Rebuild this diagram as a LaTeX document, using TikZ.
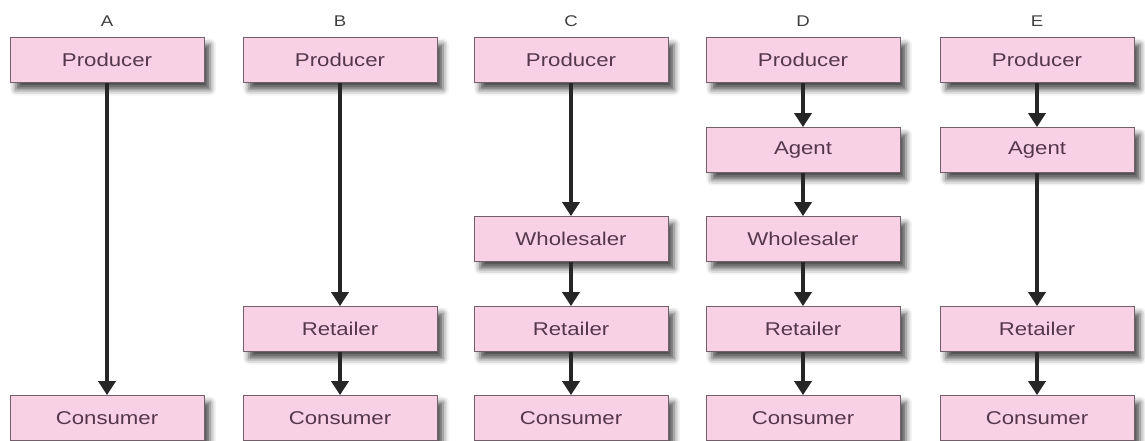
\documentclass[tikz,border=0pt]{standalone}
\usepackage{fontspec}
\setmainfont{Liberation Sans}
\newfontfamily\boxfont[FakeStretch=1.2]{Liberation Sans}
\usetikzlibrary{arrows.meta,shadows.blur}
\definecolor{boxfill}{RGB}{248,210,228}
\definecolor{boxline}{RGB}{115,95,105}
\definecolor{boxtext}{RGB}{85,55,75}
\tikzset{
  stage/.style={draw=boxline, line width=0.8pt, fill=boxfill,
    minimum width=194pt, minimum height=45pt, inner sep=0pt,
    text=boxtext, font=\boxfont\fontsize{18.5}{20}\selectfont,
    blur shadow={shadow xshift=6pt, shadow yshift=-7pt, shadow blur radius=6pt, shadow opacity=70}},
  flow/.style={line width=3.5pt, black!85, -{Triangle[length=14pt,width=17pt]}, shorten >=0pt},
  colhead/.style={text=black!75, font=\boxfont\fontsize{15.5}{18}\selectfont}
}
\begin{document}
\begin{tikzpicture}[x=1pt,y=-1pt]
\useasboundingbox (0,0) rectangle (1145,441);
% column A
\node[colhead] (hA) at (107,21) {A};
\node[stage] (pA) at (107,60) {Producer};
\node[stage] (cA) at (107,418) {Consumer};
\draw[flow] (pA) -- (cA);
% column B
\node[colhead] (hB) at (340,21) {B};
\node[stage] (pB) at (340,60) {Producer};
\node[stage] (rB) at (340,329) {Retailer};
\node[stage] (cB) at (340,418) {Consumer};
\draw[flow] (pB) -- (rB);
\draw[flow] (rB) -- (cB);
% column C
\node[colhead] (hC) at (571,21) {C};
\node[stage] (pC) at (571,60) {Producer};
\node[stage] (wC) at (571,239) {Wholesaler};
\node[stage] (rC) at (571,329) {Retailer};
\node[stage] (cC) at (571,418) {Consumer};
\draw[flow] (pC) -- (wC);
\draw[flow] (wC) -- (rC);
\draw[flow] (rC) -- (cC);
% column D
\node[colhead] (hD) at (803,21) {D};
\node[stage] (pD) at (803,60) {Producer};
\node[stage] (aD) at (803,150) {Agent};
\node[stage] (wD) at (803,239) {Wholesaler};
\node[stage] (rD) at (803,329) {Retailer};
\node[stage] (cD) at (803,418) {Consumer};
\draw[flow] (pD) -- (aD);
\draw[flow] (aD) -- (wD);
\draw[flow] (wD) -- (rD);
\draw[flow] (rD) -- (cD);
% column E
\node[colhead] (hE) at (1037,21) {E};
\node[stage] (pE) at (1037,60) {Producer};
\node[stage] (aE) at (1037,150) {Agent};
\node[stage] (rE) at (1037,329) {Retailer};
\node[stage] (cE) at (1037,418) {Consumer};
\draw[flow] (pE) -- (aE);
\draw[flow] (aE) -- (rE);
\draw[flow] (rE) -- (cE);
\end{tikzpicture}
\end{document}
